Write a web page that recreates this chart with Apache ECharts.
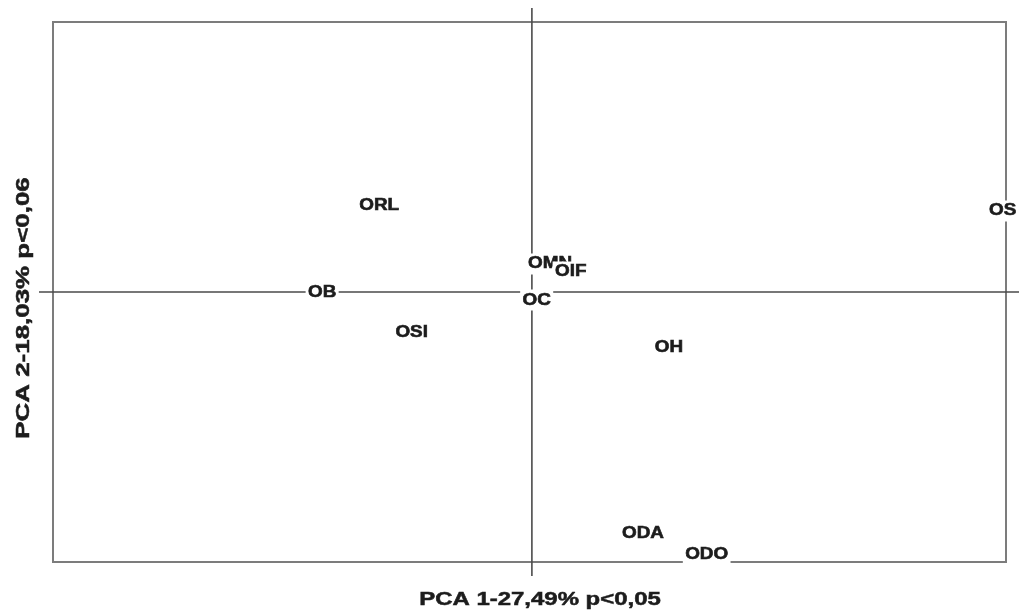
<!DOCTYPE html>
<html>
<head>
<meta charset="utf-8">
<title>PCA biplot</title>
<script src="https://cdn.jsdelivr.net/npm/echarts@6/dist/echarts.min.js"></script>
<style>
  html, body { margin: 0; padding: 0; background: #ffffff; }
  #chart { width: 1019px; height: 614px; }
</style>
</head>
<body>
<div id="chart"></div>
<script>
// Sample scores on the first two principal components
const siteNames = ['ORL', 'OS', 'OMN', 'OIF', 'OB', 'OC', 'OSI', 'OH', 'ODA', 'ODO'];
const pc1Scores = [-0.319, 0.983, 0.038, 0.081, -0.438, 0.010, -0.251, 0.286, 0.232, 0.365];
const pc2Scores = [0.319, 0.300, 0.104, 0.074, -0.004, -0.030, -0.152, -0.207, -0.896, -0.974];

// Axis titles
const xTitle = 'PCA 1-27,49% p<0,05';
const yTitle = 'PCA 2-18,03% p<0,06';

// Plot extents
const xMin = -1.0, xMax = 0.99;
const yMin = -1.0, yMax = 1.0;

const FONT = '"Liberation Sans", Arial, Helvetica, sans-serif';
const INK = '#1c1c1c';

const points = siteNames.map((n, i) => [pc1Scores[i], pc2Scores[i]]);

const chart = echarts.init(document.getElementById('chart'), null, { renderer: 'canvas' });

chart.setOption({
  backgroundColor: '#ffffff',
  animation: false,
  grid: {
    left: 53, top: 22, width: 953, height: 540,
    show: true,
    borderColor: '#7c7c7c',
    borderWidth: 2,
    backgroundColor: 'transparent'
  },
  xAxis: {
    type: 'value', min: xMin, max: xMax,
    axisLine: { show: false }, axisTick: { show: false },
    axisLabel: { show: false }, splitLine: { show: false }
  },
  yAxis: {
    type: 'value', min: yMin, max: yMax,
    axisLine: { show: false }, axisTick: { show: false },
    axisLabel: { show: false }, splitLine: { show: false }
  },
  graphic: [
    {
      type: 'text', x: 540, y: 600, scaleX: 1.33, z: 10,
      style: {
        text: xTitle, font: 'bold 18px ' + FONT, fill: INK,
        stroke: INK, lineWidth: 0.5,
        align: 'center', verticalAlign: 'middle'
      }
    },
    {
      type: 'text', x: 24, y: 308, rotation: Math.PI / 2, scaleX: 1.44, z: 10,
      style: {
        text: yTitle, font: 'bold 18px ' + FONT, fill: INK,
        stroke: INK, lineWidth: 0.5,
        align: 'center', verticalAlign: 'middle'
      }
    }
  ],
  series: [
    {
      // zero lines crossing at the origin, running a little past the frame
      type: 'custom',
      coordinateSystem: 'cartesian2d',
      clip: false,
      silent: true,
      z: 1,
      data: [[0, 0]],
      renderItem: function (params, api) {
        const o = api.coord([0, 0]);
        const tl = api.coord([xMin, yMax]);
        const br = api.coord([xMax, yMin]);
        const ext = 14;
        const ls = { stroke: '#4a4a4a', lineWidth: 1.6 };
        return {
          type: 'group',
          children: [
            { type: 'line', shape: { x1: tl[0] - ext, y1: o[1], x2: br[0] + ext, y2: o[1] }, style: ls },
            { type: 'line', shape: { x1: o[0], y1: tl[1] - ext, x2: o[0], y2: br[1] + ext }, style: ls }
          ]
        };
      }
    },
    {
      // site labels centred on their scores
      type: 'custom',
      coordinateSystem: 'cartesian2d',
      clip: false,
      z: 3,
      data: points,
      renderItem: function (params, api) {
        const p = api.coord([api.value(0), api.value(1)]);
        return {
          type: 'text',
          x: p[0], y: p[1],
          scaleX: 1.18,
          style: {
            text: siteNames[params.dataIndex],
            font: 'bold 16px ' + FONT,
            fill: INK,
            stroke: INK,
            lineWidth: 0.6,
            align: 'center',
            verticalAlign: 'middle',
            backgroundColor: '#ffffff',
            padding: [4, 2, 1, 2]
          }
        };
      }
    }
  ]
});
</script>
</body>
</html>
